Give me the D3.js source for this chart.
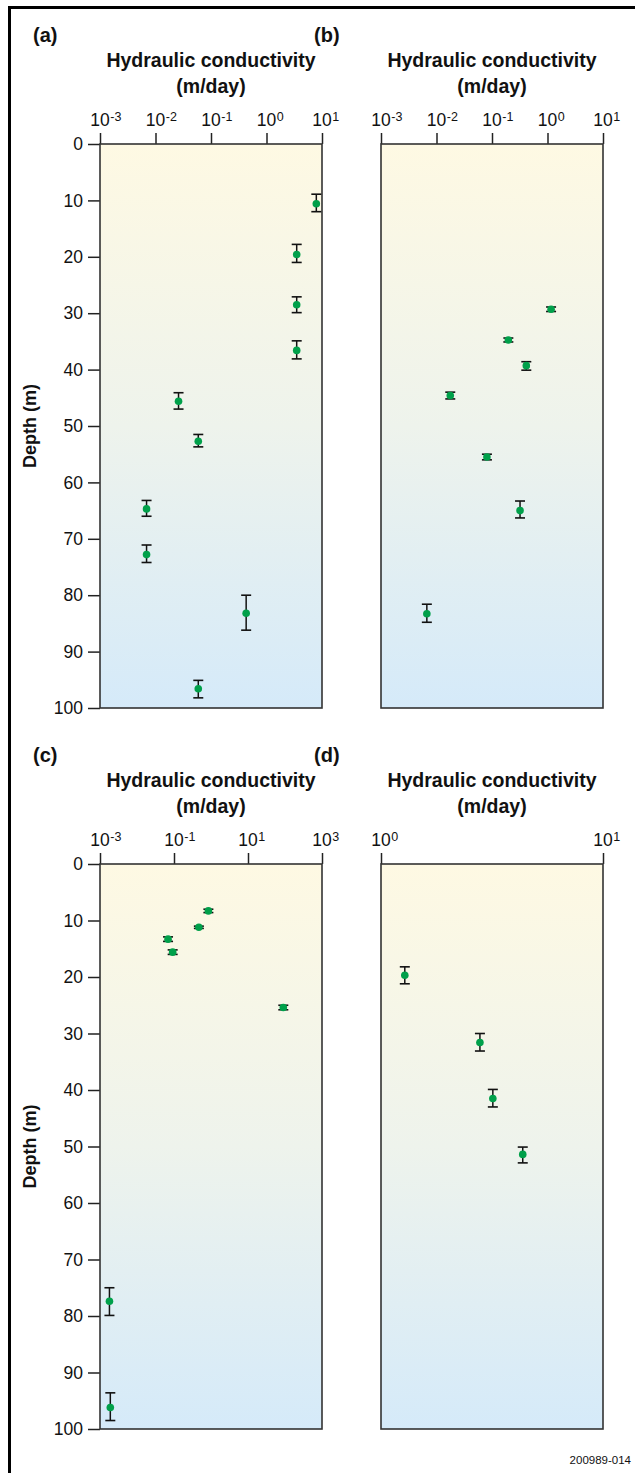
<!DOCTYPE html>
<html>
<head>
<meta charset="utf-8">
<script src="https://cdn.jsdelivr.net/npm/d3@7"></script>
<style>
  body { margin: 0; background: #fff; }
  text { font-family: "Liberation Sans", Arial, sans-serif; fill: #111; }
</style>
</head>
<body>
<script>
// panel letters and axis titles
var panelLabels = ["(a)", "(b)", "(c)", "(d)"];
var depthTicks = [0, 10, 20, 30, 40, 50, 60, 70, 80, 90, 100];

// tick exponents of the log axes
var abExponents = [-3, -2, -1, 0, 1];
var cExponents  = [-3, -1, 1, 3];
var dExponents  = [0, 1];

// (a) hydraulic conductivity (m/day) against depth (m)
var aConductivity = [7.9, 3.5, 3.5, 3.5, 0.026, 0.059, 0.0069, 0.0069, 0.43, 0.059];
var aDepth        = [10.6, 19.6, 28.5, 36.6, 45.6, 52.7, 64.7, 72.8, 83.2, 96.6];
var aDepthLow     = [8.9, 17.8, 27.1, 34.9, 44.1, 51.5, 63.2, 71.1, 80.0, 95.1];
var aDepthHigh    = [12.0, 21.0, 29.9, 38.1, 47.0, 53.7, 66.0, 74.2, 86.2, 98.2];

// (b)
var bConductivity = [1.16, 0.197, 0.415, 0.0177, 0.081, 0.32, 0.0067];
var bDepth        = [29.3, 34.75, 39.3, 44.6, 55.5, 65.0, 83.3];
var bDepthLow     = [28.9, 34.4, 38.6, 44.0, 55.0, 63.3, 81.6];
var bDepthHigh    = [29.7, 35.1, 40.1, 45.2, 56.0, 66.3, 84.8];

// (c)
var cConductivity = [0.85, 0.47, 0.069, 0.092, 90, 0.0018, 0.0019];
var cDepth        = [8.3, 11.2, 13.3, 15.6, 25.4, 77.4, 96.2];
var cDepthLow     = [8.0, 11.0, 12.9, 15.2, 25.0, 75.0, 93.6];
var cDepthHigh    = [8.6, 11.4, 13.7, 16.0, 25.8, 79.9, 98.5];

// (d)
var dConductivity = [1.28, 2.79, 3.19, 4.35];
var dDepth        = [19.7, 31.6, 41.5, 51.4];
var dDepthLow     = [18.2, 30.0, 39.9, 50.1];
var dDepthHigh    = [21.2, 33.1, 43.0, 52.9];

var width = 635, height = 1473;

var svg = d3.select("body").append("svg")
    .attr("width", width)
    .attr("height", height);

// background gradient used inside every plot box
var grad = svg.append("defs").append("linearGradient")
    .attr("id", "bg").attr("x1", 0).attr("y1", 0).attr("x2", 0).attr("y2", 1);
grad.append("stop").attr("offset", "0%").attr("stop-color", "#fef9e3");
grad.append("stop").attr("offset", "50%").attr("stop-color", "#eef3ec");
grad.append("stop").attr("offset", "100%").attr("stop-color", "#d5eaf9");

// outer frame (left + top visible)
svg.append("rect")
    .attr("x", 9.5).attr("y", 7.5)
    .attr("width", width + 20).attr("height", height + 20)
    .attr("fill", "none").attr("stroke", "#000").attr("stroke-width", 3);

function makePanel(label, exps, xs, ys, ys0, ys1, box, showDepth) {
  var x = d3.scaleLog()
      .domain([Math.pow(10, exps[0]), Math.pow(10, exps[exps.length - 1])])
      .range([box.x0, box.x1]);
  var y = d3.scaleLinear().domain([0, 100]).range([box.y0, box.y1]);

  var g = svg.append("g");

  g.append("rect")
      .attr("x", box.x0).attr("y", box.y0)
      .attr("width", box.x1 - box.x0).attr("height", box.y1 - box.y0)
      .attr("fill", "url(#bg)");

  // panel letter and title
  g.append("text").attr("x", box.x0 - 67).attr("y", box.y0 - 102)
      .style("font-size", "20px").style("font-weight", "bold").text(label);
  var cx = (box.x0 + box.x1) / 2;
  g.append("text").attr("x", cx).attr("y", box.y0 - 77)
      .attr("text-anchor", "middle")
      .style("font-size", "19.5px").style("font-weight", "bold")
      .text("Hydraulic conductivity");
  g.append("text").attr("x", cx).attr("y", box.y0 - 51)
      .attr("text-anchor", "middle")
      .style("font-size", "19.5px").style("font-weight", "bold")
      .text("(m/day)");

  // top axis
  var xAxis = d3.axisTop(x)
      .tickValues(exps.map(function(e) { return Math.pow(10, e); }))
      .tickSize(11)
      .tickFormat("");
  var ax = g.append("g").attr("transform", "translate(0," + box.y0 + ")").call(xAxis);
  ax.select(".domain").remove();
  ax.selectAll("line").attr("stroke", "#222").attr("stroke-width", 1.5);

  exps.forEach(function(e) {
    var px = x(Math.pow(10, e));
    var base = g.append("text").attr("x", px).attr("y", box.y0 - 18)
        .attr("text-anchor", "middle").style("font-size", "17.5px").text("10");
    var w = base.node().getComputedTextLength();
    g.append("text").attr("x", px + w / 2 + 0.5).attr("y", box.y0 - 23.5)
        .style("font-size", "12.5px").text(e < 0 ? "-" + (-e) : e);
  });

  // left axis
  var yAxis = d3.axisLeft(y).tickValues(depthTicks)
      .tickSize(showDepth ? 12 : 0).tickPadding(5)
      .tickFormat(showDepth ? d3.format("d") : "");
  var ay = g.append("g").attr("transform", "translate(" + box.x0 + ",0)").call(yAxis);
  ay.select(".domain").remove();
  ay.selectAll("line").attr("stroke", "#222").attr("stroke-width", 1.5);
  ay.selectAll("text").style("font-size", "17.5px")
      .style("font-family", "'Liberation Sans', Arial, sans-serif").attr("fill", "#111");

  if (showDepth) {
    g.append("text")
        .attr("transform", "translate(36," + (box.y0 + box.y1) / 2 + ") rotate(-90)")
        .attr("text-anchor", "middle")
        .style("font-size", "18px").style("font-weight", "bold")
        .text("Depth (m)");
  }

  // plot frame
  g.append("rect")
      .attr("x", box.x0).attr("y", box.y0)
      .attr("width", box.x1 - box.x0).attr("height", box.y1 - box.y0)
      .attr("fill", "none").attr("stroke", "#333").attr("stroke-width", 1.6);

  // error bars
  var idx = d3.range(xs.length);
  var eb = g.selectAll(".eb").data(idx).enter().append("g");
  eb.append("line")
      .attr("x1", function(i) { return x(xs[i]); })
      .attr("x2", function(i) { return x(xs[i]); })
      .attr("y1", function(i) { return y(ys0[i]); })
      .attr("y2", function(i) { return y(ys1[i]); })
      .attr("stroke", "#111").attr("stroke-width", 1.5);
  [ys0, ys1].forEach(function(arr) {
    eb.append("line")
        .attr("x1", function(i) { return x(xs[i]) - 5; })
        .attr("x2", function(i) { return x(xs[i]) + 5; })
        .attr("y1", function(i) { return y(arr[i]); })
        .attr("y2", function(i) { return y(arr[i]); })
        .attr("stroke", "#111").attr("stroke-width", 1.6);
  });

  g.selectAll(".pt").data(idx).enter().append("circle")
      .attr("cx", function(i) { return x(xs[i]); })
      .attr("cy", function(i) { return y(ys[i]); })
      .attr("r", 3.8)
      .attr("fill", "#00a04a");
}

makePanel(panelLabels[0], abExponents, aConductivity, aDepth, aDepthLow, aDepthHigh,
          {x0: 100, x1: 322, y0: 144, y1: 708}, true);
makePanel(panelLabels[1], abExponents, bConductivity, bDepth, bDepthLow, bDepthHigh,
          {x0: 381, x1: 603, y0: 144, y1: 708}, false);
makePanel(panelLabels[2], cExponents, cConductivity, cDepth, cDepthLow, cDepthHigh,
          {x0: 100, x1: 322, y0: 864, y1: 1429}, true);
makePanel(panelLabels[3], dExponents, dConductivity, dDepth, dDepthLow, dDepthHigh,
          {x0: 381, x1: 603, y0: 864, y1: 1429}, false);

svg.append("text")
    .attr("x", 631).attr("y", 1464)
    .attr("text-anchor", "end")
    .style("font-size", "11.5px")
    .text("200989-014");
</script>
</body>
</html>
